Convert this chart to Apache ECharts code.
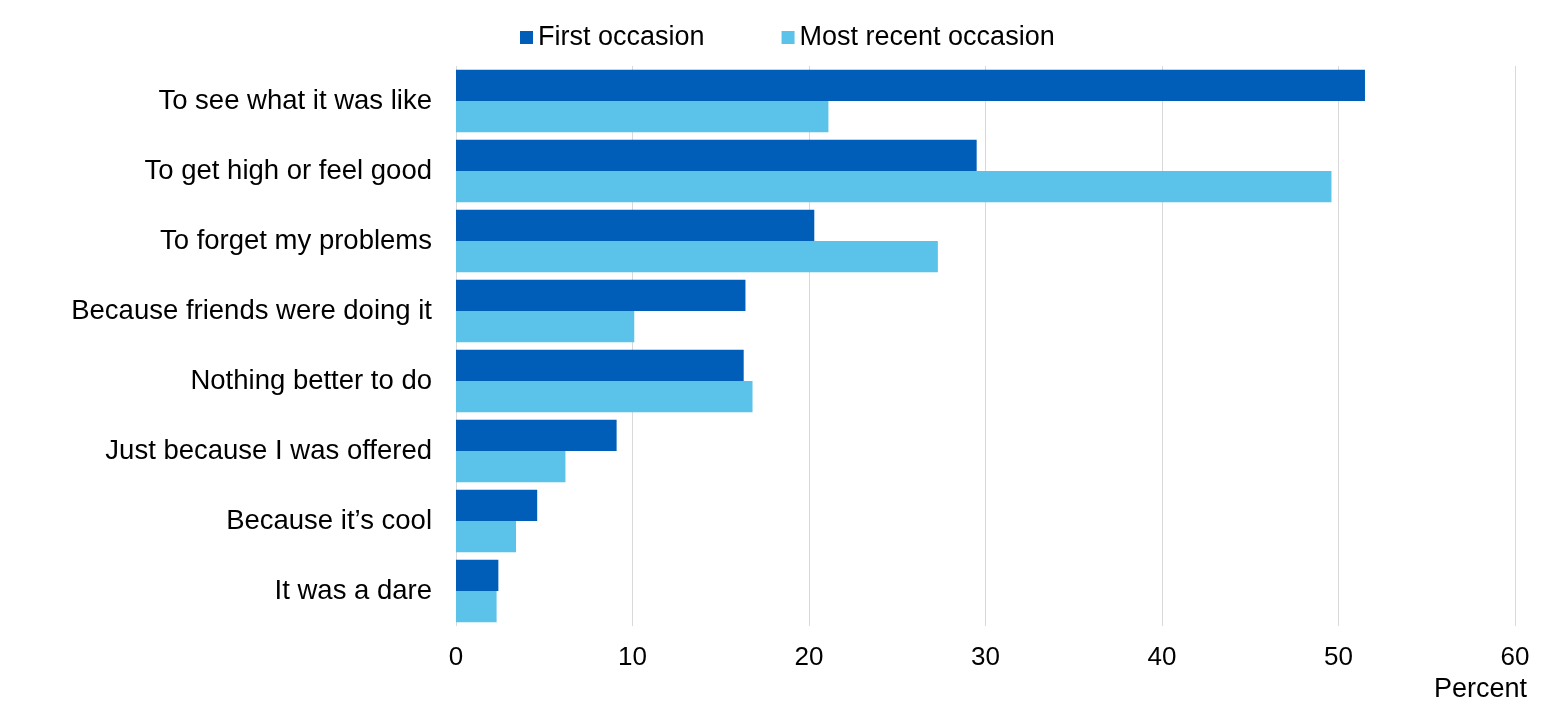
<!DOCTYPE html>
<html><head><meta charset="utf-8">
<script src="https://cdn.jsdelivr.net/npm/echarts@6/dist/echarts.min.js"></script>
<style>html,body{margin:0;padding:0;background:#fff}#c{width:1559px;height:715px}</style>
</head><body><div id="c"></div>
<script>
const categories = ["To see what it was like","To get high or feel good","To forget my problems","Because friends were doing it","Nothing better to do","Just because I was offered","Because it\u2019s cool","It was a dare"];
const firstOccasion = [51.5, 29.5, 20.3, 16.4, 16.3, 9.1, 4.6, 2.4];
const mostRecent = [21.1, 49.6, 27.3, 10.1, 16.8, 6.2, 3.4, 2.3];
const xTicks = {min: 0, max: 60, interval: 10};
const FONT = "Liberation Sans";
const chart = echarts.init(document.getElementById('c'));
chart.setOption({
  animation: false,
  textStyle: {fontFamily: FONT, color: '#000'},
  legend: {
    top: 19, left: 515, itemWidth: 13, itemHeight: 13, itemGap: 77, icon: 'rect',
    textStyle: {fontSize: 27, color: '#000', fontFamily: FONT},
    data: ['First occasion','Most recent occasion']
  },
  grid: {left: 456, right: 44, top: 66, bottom: 89, containLabel: false},
  xAxis: {
    type: 'value', min: xTicks.min, max: xTicks.max, interval: xTicks.interval,
    name: 'Percent', nameLocation: 'end', nameGap: 12,
    nameTextStyle: {fontSize: 27, color: '#000', align: 'right', verticalAlign: 'top', padding: [50,0,0,0], fontFamily: FONT},
    axisLine: {show: false}, axisTick: {show: false},
    axisLabel: {fontSize: 26, color: '#000', margin: 19, fontFamily: FONT},
    splitLine: {show: true, lineStyle: {color: '#d9d9d9', width: 1}}
  },
  yAxis: {
    type: 'category', data: categories, inverse: true,
    axisLine: {show: false}, axisTick: {show: false},
    axisLabel: {fontSize: 27.5, color: '#000', margin: 24, fontFamily: FONT, padding: [3,0,0,0]}
  },
  series: [
    {name: 'First occasion', type: 'bar', data: firstOccasion, barGap: '0%', barCategoryGap: '11%', itemStyle: {color: '#005EB8'}},
    {name: 'Most recent occasion', type: 'bar', data: mostRecent, barGap: '0%', barCategoryGap: '11%', itemStyle: {color: '#5BC2E9'}}
  ]
});
</script></body></html>
